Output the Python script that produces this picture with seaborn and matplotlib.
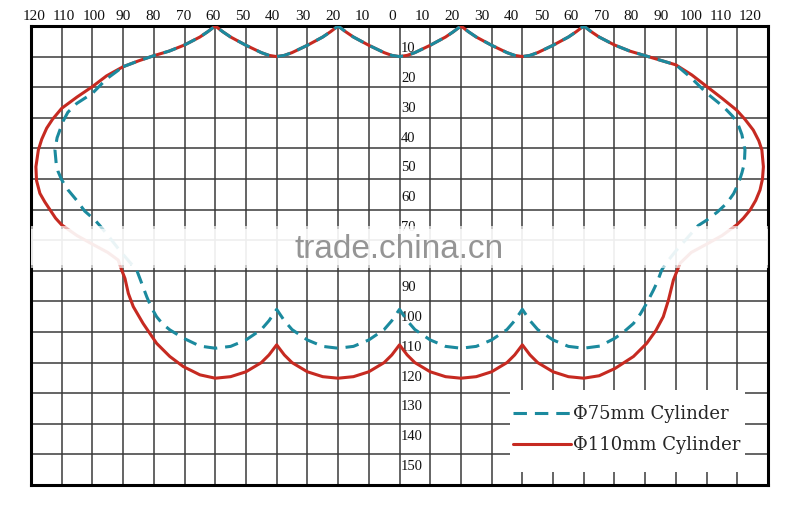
import numpy as np
import pandas as pd
import matplotlib
matplotlib.use("Agg")
import matplotlib.pyplot as plt
from matplotlib.patches import Rectangle
import seaborn as sns

# ---------------- data ----------------
x_tick_labels = [120, 110, 100, 90, 80, 70, 60, 50, 40, 30, 20, 10, 0,
                 10, 20, 30, 40, 50, 60, 70, 80, 90, 100, 110, 120]
# "80" is hidden under the watermark band in the reference
y_tick_labels = [10, 20, 30, 40, 50, 60, 70, 90, 100, 110, 120, 130, 140, 150]

series_names = ["\u03a675mm Cylinder", "\u03a6110mm Cylinder"]

# shared upper scalloped edge (both cylinders)
top_x = [-90, -85, -80, -75, -70, -65, -62.5, -60, -57.5, -55, -50, -45, -42.5, -40,
         -37.5, -35, -30, -25, -22.5, -20, -17.5, -15, -10, -5, -2.5, 0,
         2.5, 5, 10, 15, 17.5, 20, 22.5, 25, 30, 35, 37.5, 40,
         42.5, 45, 50, 55, 57.5, 60, 62.5, 65, 70, 75, 80, 85, 90]
top_y = [13.3, 11.4, 9.7, 8.2, 6.2, 3.6, 1.9, 0, 1.9, 3.6, 6.3, 8.7, 9.6, 10,
         9.6, 8.7, 6.3, 3.6, 1.9, 0, 1.9, 3.6, 6.3, 8.7, 9.6, 10,
         9.6, 8.7, 6.3, 3.6, 1.9, 0, 1.9, 3.6, 6.3, 8.7, 9.6, 10,
         9.6, 8.7, 6.3, 3.6, 1.9, 0, 1.9, 3.6, 6.2, 8.2, 9.7, 11.2, 12.7]

# lower scalloped edge (right to left)
bottom_x = [60, 55, 50, 45, 42.5, 40, 37.5, 35, 30, 25, 20, 15, 10, 5, 2.5, 0,
            -2.5, -5, -10, -15, -20, -25, -30, -35, -37.5, -40, -42.5, -45, -50, -55, -60]
bottom_y_110 = [115.1, 114.6, 113, 110, 107.5, 104.2, 107.5, 110, 113, 114.6, 115.1,
                114.6, 113, 110, 107.5, 104.2, 107.5, 110, 113, 114.6, 115.1,
                114.6, 113, 110, 107.5, 104.2, 107.5, 110, 113, 114.6, 115.1]
bottom_y_75 = [105.3, 104.7, 102.6, 99.2, 96.3, 92.6, 96.3, 99.2, 102.6, 104.7, 105.3,
               104.7, 102.6, 99.2, 96.3, 92.6, 96.3, 99.2, 102.6, 104.7, 105.3,
               104.7, 102.6, 99.2, 96.3, 92.6, 96.3, 99.2, 102.6, 104.7, 105.3]

# right flank (top to bottom)
right_x_110 = [95.2, 100.1, 105, 109.8, 112.5, 115.2, 117, 118, 118.5, 118.2,
               117.4, 116, 114.2, 112, 109.8, 105, 100, 95, 91.4, 89.2,
               87.6, 85.9, 83.5, 80.5, 76.2, 70.2, 65]
right_y_110 = [16, 19.8, 23.6, 27.5, 30.5, 34, 37.5, 40.5, 46, 50,
               53.6, 57, 60.1, 62.8, 65, 68.5, 71.3, 74, 77.5, 83,
               89.5, 95, 99.5, 103.7, 108, 111.9, 114.3]
right_x_75 = [94.6, 100.1, 105.5, 108.5, 110.2, 111.5, 112.5, 112.3, 111.5, 110.4,
              108.8, 106.6, 103.5, 100.1, 97.3, 93.5, 90, 87.2, 85.4, 84,
              82.7, 80.5, 78.5, 76.2, 73, 70.2, 65.3]
right_y_75 = [16.6, 22, 26.4, 29.5, 32, 35.5, 40.5, 44.9, 48, 51.4,
              54.8, 57.9, 60.8, 63.4, 65.2, 69.5, 73.5, 77, 79.7, 83.5,
              86.3, 90.6, 94, 97.2, 100, 102, 104.6]

# left flank (bottom to top)
left_x_110 = [-65, -70.4, -74.8, -79.1, -83.5, -86.7, -88.3, -89.4, -90.5, -91.6,
              -95, -100, -105, -110, -112, -113.8, -115.5, -117.1, -118.2, -118.4,
              -117.6, -116.5, -114.9, -113, -110, -105, -100, -95.4, -90]
left_y_110 = [114, 111.3, 108, 103.7, 97.2, 91.7, 87.4, 82.5, 79.7, 76.5,
              74, 71.3, 68.5, 65, 62.8, 60.1, 57.5, 54.7, 50.5, 46,
              40.5, 37, 33.4, 30.5, 26.9, 23.2, 19.8, 16.3, 13.3]
left_x_75 = [-65, -70.4, -74.8, -77.2, -79.1, -80.8, -82.3, -84, -85.6, -88,
             -91, -94.5, -97.6, -99.2, -102.5, -105.1, -108, -110, -111.2, -111.8,
             -112.2, -111.5, -110.6, -109.5, -108, -105.1, -100, -95.4, -90]
left_y_75 = [104.6, 102, 99.3, 97.3, 95, 92, 88.5, 84, 79.7, 77,
             73.5, 69, 65.2, 63.4, 60.5, 57, 53.5, 50.3, 47.5, 44.9,
             40.5, 36.5, 34, 31, 28.2, 25.3, 22, 17.3, 13.3]

# ---------------- build tables ----------------
df75 = pd.DataFrame({
    "x": top_x + right_x_75 + bottom_x + left_x_75,
    "y": top_y + right_y_75 + bottom_y_75 + left_y_75,
})
df110 = pd.DataFrame({
    "x": top_x + right_x_110 + bottom_x + left_x_110,
    "y": top_y + right_y_110 + bottom_y_110 + left_y_110,
})

# ---------------- figure ----------------
sns.set_style("white")
plt.rcParams["font.family"] = ["Liberation Serif", "DejaVu Serif"]

fig = plt.figure(figsize=(8.0, 5.17), dpi=100)
ax = fig.add_axes([31 / 800, 1 - 485 / 517, 737 / 800, 459 / 517])

BLUE = "#1B8A9E"
RED = "#C62A21"

sns.lineplot(data=df110, x="x", y="y", sort=False, estimator=None, ax=ax,
             color=RED, lw=2.2, label=series_names[1], zorder=3)
sns.lineplot(data=df75, x="x", y="y", sort=False, estimator=None, ax=ax,
             color=BLUE, lw=2.2, linestyle=(0, (4.4, 2.6)), dash_capstyle="butt",
             label=series_names[0], zorder=4)

ax.set_xlim(-120, 120)
ax.set_ylim(150, 0)
ax.set_xticks(np.arange(-120, 121, 10))
ax.set_yticks(np.arange(0, 151, 10))
ax.tick_params(length=0, labelbottom=False, labelleft=False)
ax.set_xlabel("")
ax.set_ylabel("")
ax.grid(True, color="#3a3a3a", lw=1.1)
ax.set_axisbelow(True)
for s in ax.spines.values():
    s.set_visible(True)
    s.set_color("black")
    s.set_linewidth(2.2)

# top scale labels
for i, v in enumerate(x_tick_labels):
    ax.text(-119.0 + i * 9.72, -3.0, str(v), ha="center", va="center",
            fontsize=11, color="#111111", clip_on=False)

# central scale labels
for v in y_tick_labels:
    ax.text(0.5, 0.976 * v - 2.4, str(v), ha="left", va="center",
            fontsize=10.5, color="#111111", zorder=2)

# watermark band
ax.axhspan(65.3, 79.2, color="white", alpha=0.65, lw=0, zorder=5)
ax.axhspan(66.3, 78.2, color="white", alpha=0.75, lw=0, zorder=5)
ax.text(0, 75.8, "trade.china.cn", ha="center", va="baseline",
        fontsize=24, family="Liberation Sans", color="#8a8a8a", alpha=0.9, zorder=6)

# legend area
ax.add_patch(Rectangle((36, 119), 76.4, 26.6, facecolor="white", edgecolor="none", zorder=6))
handles, labs = ax.get_legend_handles_labels()
order = [labs.index(series_names[0]), labs.index(series_names[1])]
leg = ax.legend([handles[k] for k in order], [labs[k] for k in order],
                loc="center left", bbox_to_anchor=(37, 131.9), bbox_transform=ax.transData,
                frameon=False, borderpad=0, borderaxespad=0, handlelength=3.2,
                handletextpad=0.1, labelspacing=0.75,
                prop={"family": "DejaVu Serif", "size": 13})
leg.set_zorder(7)

fig.savefig("out.png", dpi=100, facecolor="white")
